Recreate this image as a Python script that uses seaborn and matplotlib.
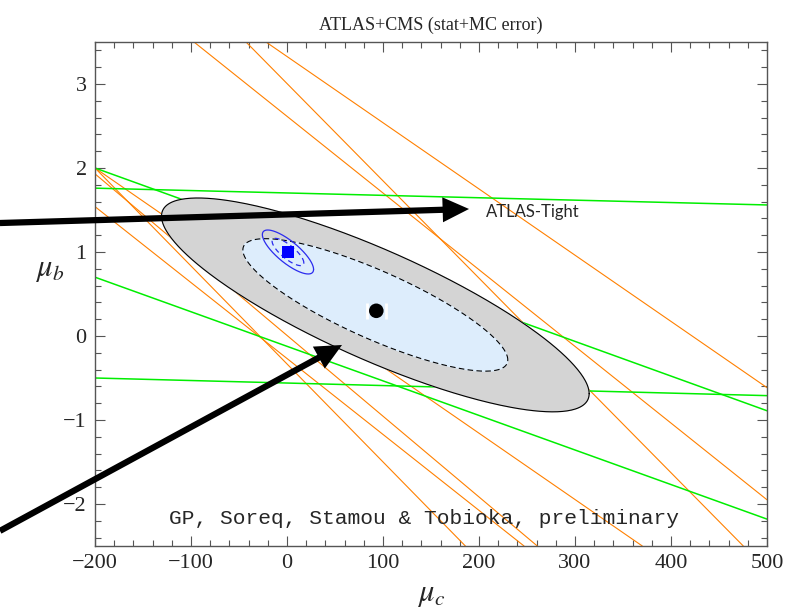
import numpy as np
import pandas as pd
import matplotlib.pyplot as plt
import seaborn as sns
from matplotlib.ticker import MultipleLocator

# Plot ranges
mu_c_lim = [-200, 500]
mu_b_lim = [-2.5, 3.5]

# Orange constraint lines: (mu_c, mu_b) at both ends
orange_c0 = [-200, -42.7, -200, -21.9, -200, -96.9, -200]
orange_b0 = [2.0, 3.5, 2.0, 3.5, 1.54, 3.5, 1.93]
orange_c1 = [185.8, 475.3, 370.1, 500, 246.9, 500, 260.7]
orange_b1 = [-2.5, -2.5, -2.5, -0.615, -2.5, -1.95, -2.5]

# Green constraint lines
green_c0 = [-200, -200, -200, -200]
green_b0 = [1.76, 2.0, 0.70, -0.50]
green_c1 = [500, 500, 500, 500]
green_b1 = [1.56, -0.89, -2.18, -0.71]

# Fit ellipse (ATLAS+CMS) and SM projection
fit_center = [92.0, 0.37]
fit_sigma = [91.0, 0.52]
fit_rho = -0.83
sm_center = [1.0, 1.0]
sm_sigma = [10.9, 0.107]
sm_rho = -0.79
best_fit = [93.0, 0.30]
chi2_levels = [2.30, 5.99]  # 68% and 95% CL for 2 d.o.f.

# Arrows (start outside the plot, tip inside) and labels
arrow_start_c = [-299, -299]
arrow_start_b = [1.345, -2.32]
arrow_tip_c = [189.6, 57.3]
arrow_tip_b = [1.512, -0.107]
arrow_label = "ATLAS-Tight"
credit = "GP, Soreq, Stamou & Tobioka, preliminary"


def ellipse(center, sigma, rho, level, n=400):
    cov = np.array([[sigma[0] ** 2, rho * sigma[0] * sigma[1]],
                    [rho * sigma[0] * sigma[1], sigma[1] ** 2]])
    L = np.linalg.cholesky(cov)
    t = np.linspace(0, 2 * np.pi, n)
    pts = np.sqrt(level) * (L @ np.vstack([np.cos(t), np.sin(t)]))
    return pd.DataFrame({"mu_c": center[0] + pts[0], "mu_b": center[1] + pts[1]})


def outline(df, ax, **kw):
    # keep the path order, no aggregation
    sns.lineplot(data=df, x="mu_c", y="mu_b", sort=False, estimator=None, ax=ax, **kw)


sns.set_style("ticks")
plt.rcParams["font.family"] = ["Liberation Serif", "DejaVu Serif"]
plt.rcParams["mathtext.fontset"] = "stix"

fig = plt.figure(figsize=(7.95, 6.13), dpi=100)
ax = fig.add_axes([0.1195, 0.1093, 0.8453, 0.8222])

# constraint lines
for c0, b0, c1, b1 in zip(orange_c0, orange_b0, orange_c1, orange_b1):
    sns.lineplot(x=[c0, c1], y=[b0, b1], color="#ff8000", lw=0.8, ax=ax, zorder=1)
for c0, b0, c1, b1 in zip(green_c0, green_b0, green_c1, green_b1):
    sns.lineplot(x=[c0, c1], y=[b0, b1], color="#00ee00", lw=1.1, ax=ax, zorder=1)

# fit contours
outer = ellipse(fit_center, fit_sigma, fit_rho, chi2_levels[1])
inner = ellipse(fit_center, fit_sigma, fit_rho, chi2_levels[0])
ax.fill(outer["mu_c"], outer["mu_b"], color="#d4d4d4", zorder=2)
outline(outer, ax, color="black", lw=0.8, zorder=2.1)
ax.fill(inner["mu_c"], inner["mu_b"], color="#ddedfc", zorder=3)
outline(inner, ax, color="black", lw=0.8, linestyle=(0, (5, 3)), zorder=3.1)

# SM projection contours
sm_outer = ellipse(sm_center, sm_sigma, sm_rho, chi2_levels[1])
sm_inner = ellipse(sm_center, sm_sigma, sm_rho, chi2_levels[0])
outline(sm_outer, ax, color="#2b2bee", lw=0.9, zorder=4)
outline(sm_inner, ax, color="#2b2bee", lw=0.9, linestyle=(0, (4, 3)), zorder=4)

# points
ax.errorbar(best_fit[0], best_fit[1], xerr=10, fmt="none", ecolor="white",
            elinewidth=0, capsize=6, capthick=2, zorder=4.5)
sns.scatterplot(x=[best_fit[0]], y=[best_fit[1]], color="black", s=110, marker="o",
                edgecolor="none", ax=ax, zorder=5)
sns.scatterplot(x=[sm_center[0]], y=[sm_center[1]], color="#0000ff", s=70, marker="s",
                edgecolor="none", ax=ax, zorder=5)

# arrows
for sc, sb, tc, tb in zip(arrow_start_c, arrow_start_b, arrow_tip_c, arrow_tip_b):
    ax.annotate("", xy=(tc, tb), xytext=(sc, sb), annotation_clip=False,
                arrowprops=dict(arrowstyle="simple,head_length=1.9,head_width=1.8,tail_width=0.45",
                                fc="black", ec="none", lw=0, mutation_scale=10,
                                shrinkA=0, shrinkB=0, clip_on=False), zorder=6)
ax.text(207, 1.417, arrow_label, fontsize=12, family="Lato", ha="left", va="baseline", zorder=6)
ax.text(143, -2.238, credit, fontsize=15.3, family="Liberation Mono", ha="center", va="baseline", zorder=6)

# axes styling
ax.set_xlim(mu_c_lim)
ax.set_ylim(mu_b_lim)
ax.xaxis.set_major_locator(MultipleLocator(100))
ax.xaxis.set_minor_locator(MultipleLocator(20))
ax.yaxis.set_major_locator(MultipleLocator(1))
ax.yaxis.set_minor_locator(MultipleLocator(0.2))
ax.tick_params(which="both", direction="in", top=True, right=True, color="#555555", width=0.8)
ax.tick_params(which="major", length=7, labelsize=16, pad=6)
ax.tick_params(which="minor", length=4)
for s in ax.spines.values():
    s.set_color("#555555")
    s.set_linewidth(1.0)

ax.set_title("ATLAS+CMS (stat+MC error)", fontsize=13, pad=9)
ax.set_xlabel(r"$\mu_c$", fontsize=22)
ax.set_ylabel(r"$\mu_b$", fontsize=22, rotation=0)
ax.xaxis.set_label_coords(0.5, -0.097)
ax.yaxis.set_label_coords(-0.067, 0.548)
ax.xaxis.label.set_va("center")
ax.yaxis.label.set_va("center")
ax.yaxis.label.set_ha("center")

fig.savefig("out.png", dpi=100)
